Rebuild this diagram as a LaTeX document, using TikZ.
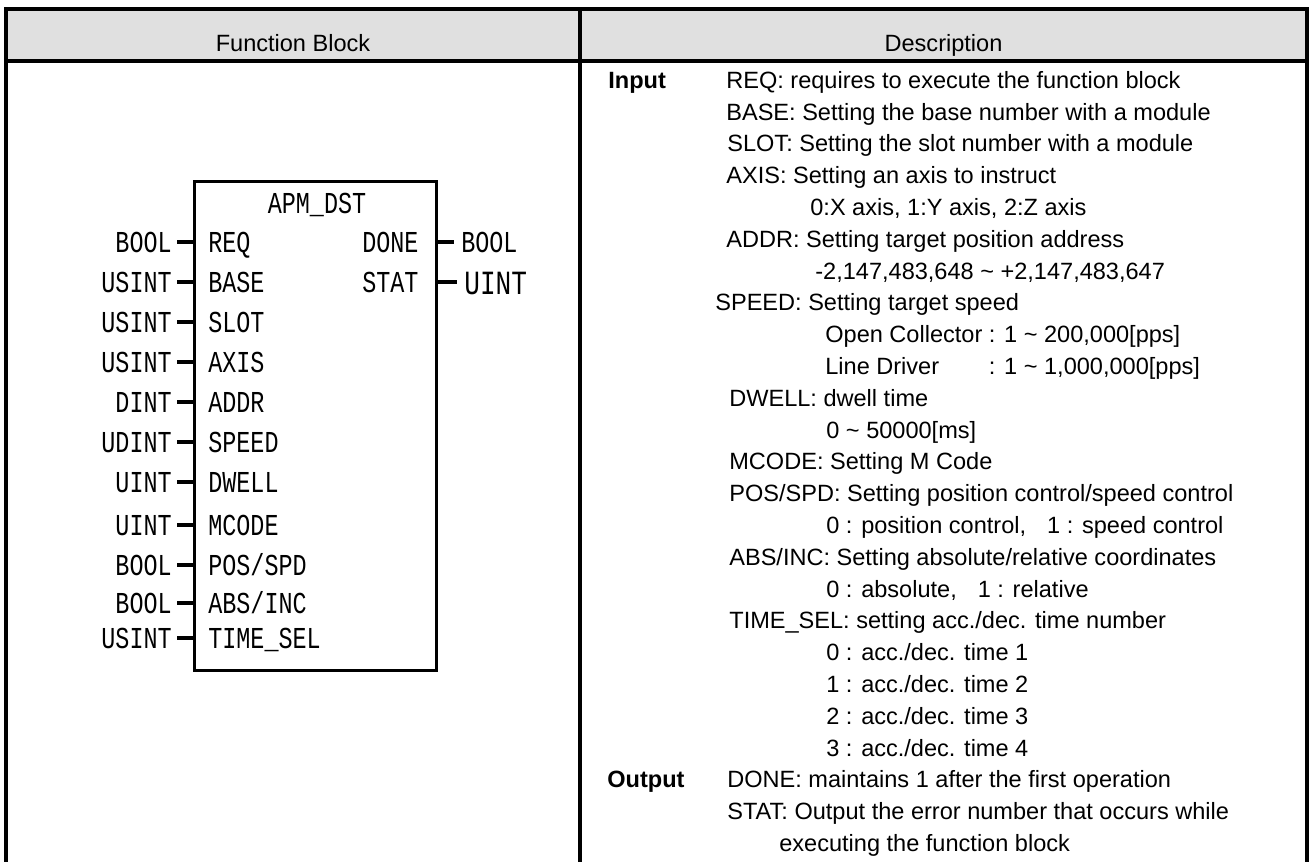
\documentclass[tikz,border=0pt]{standalone}
\usepackage{fontspec}
\setmainfont{Liberation Sans}
\newfontfamily\fbfont[FakeStretch=0.77]{Liberation Mono}
\usepackage{tikz}
\usetikzlibrary{positioning}
\definecolor{hdrgray}{RGB}{224,224,224}

\begin{document}
\begin{tikzpicture}[
  tblline/.style={line width=0.09cm},
  hdrtxt/.style={anchor=base, inner sep=0pt, font={\fontsize{13.4}{16}\selectfont}},
  desc/.style={anchor=base west, inner sep=0pt, font={\fontsize{13.4}{16}\selectfont}},
  desckey/.style={anchor=base west, inner sep=0pt, font={\fontsize{13.4}{16}\selectfont\bfseries}},
  fbbox/.style={draw=black, line width=0.06cm, minimum width=4.84cm, minimum height=9.78cm, inner sep=0pt},
  fbtxt/.style={inner sep=0pt, text height=0.40cm, text depth=0pt, font={\fbfont\fontsize{17.3}{20}\selectfont}},
  fbtxtbig/.style={fbtxt, text height=0.45cm, font={\fbfont\fontsize{19.3}{22}\selectfont}},
  fbstub/.style={line width=0.065cm}
]
\useasboundingbox (0,0) rectangle (26.22,-17.22);
\fill[hdrgray] (0.12,-0.18) rectangle (26.14,-1.22);
\draw[tblline] (0.12,-17.40) -- (0.12,-0.18) -- (26.14,-0.18) -- (26.14,-17.40);
\draw[tblline] (0.12,-1.22) -- (26.14,-1.22);
\draw[tblline] (11.60,-0.18) -- (11.60,-17.40);
\node[hdrtxt] (hfb) at (5.86,-1.02) {Function Block};
\node[hdrtxt] (hdesc) at (18.87,-1.02) {Description};

\node[fbbox] (fb) at (6.30,-8.51) {};
\node[fbtxt] (fbname) at (6.34,-4.06) {APM\_DST};
\node[fbtxt, anchor=west] (req) at (4.16,-4.84) {REQ};
\node[fbtxt, anchor=west] (base) at (4.16,-5.64) {BASE};
\node[fbtxt, anchor=west] (slot) at (4.16,-6.44) {SLOT};
\node[fbtxt, anchor=west] (axis) at (4.16,-7.24) {AXIS};
\node[fbtxt, anchor=west] (addr) at (4.16,-8.04) {ADDR};
\node[fbtxt, anchor=west] (speed) at (4.16,-8.84) {SPEED};
\node[fbtxt, anchor=west] (dwell) at (4.16,-9.64) {DWELL};
\node[fbtxt, anchor=west] (mcode) at (4.16,-10.50) {MCODE};
\node[fbtxt, anchor=west] (posspd) at (4.16,-11.30) {POS/SPD};
\node[fbtxt, anchor=west] (absinc) at (4.16,-12.06) {ABS/INC};
\node[fbtxt, anchor=west] (timesel) at (4.16,-12.76) {TIME\_SEL};
\node[fbtxt, anchor=west] (done) at (7.24,-4.84) {DONE};
\node[fbtxt, anchor=west] (stat) at (7.24,-5.64) {STAT};

\node[fbtxt, anchor=east] (treq) at (3.44,-4.84) {BOOL};
\node[fbtxt, anchor=east] (tbase) at (3.44,-5.64) {USINT};
\node[fbtxt, anchor=east] (tslot) at (3.44,-6.44) {USINT};
\node[fbtxt, anchor=east] (taxis) at (3.44,-7.24) {USINT};
\node[fbtxt, anchor=east] (taddr) at (3.44,-8.04) {DINT};
\node[fbtxt, anchor=east] (tspeed) at (3.44,-8.84) {UDINT};
\node[fbtxt, anchor=east] (tdwell) at (3.44,-9.64) {UINT};
\node[fbtxt, anchor=east] (tmcode) at (3.44,-10.50) {UINT};
\node[fbtxt, anchor=east] (tposspd) at (3.44,-11.30) {BOOL};
\node[fbtxt, anchor=east] (tabsinc) at (3.44,-12.06) {BOOL};
\node[fbtxt, anchor=east] (ttimesel) at (3.44,-12.76) {USINT};
\node[fbtxt, anchor=west] (tdone) at (9.22,-4.84) {BOOL};
\node[fbtxtbig, anchor=west] (tstat) at (9.28,-5.66) {UINT};

\draw[fbstub] ([xshift=0.10cm]treq.east) -- (fb.west |- treq.east);
\draw[fbstub] ([xshift=0.10cm]tbase.east) -- (fb.west |- tbase.east);
\draw[fbstub] ([xshift=0.10cm]tslot.east) -- (fb.west |- tslot.east);
\draw[fbstub] ([xshift=0.10cm]taxis.east) -- (fb.west |- taxis.east);
\draw[fbstub] ([xshift=0.10cm]taddr.east) -- (fb.west |- taddr.east);
\draw[fbstub] ([xshift=0.10cm]tspeed.east) -- (fb.west |- tspeed.east);
\draw[fbstub] ([xshift=0.10cm]tdwell.east) -- (fb.west |- tdwell.east);
\draw[fbstub] ([xshift=0.10cm]tmcode.east) -- (fb.west |- tmcode.east);
\draw[fbstub] ([xshift=0.10cm]tposspd.east) -- (fb.west |- tposspd.east);
\draw[fbstub] ([xshift=0.10cm]tabsinc.east) -- (fb.west |- tabsinc.east);
\draw[fbstub] ([xshift=0.10cm]ttimesel.east) -- (fb.west |- ttimesel.east);
\draw[fbstub] (fb.east |- done.east) -- ([xshift=-0.14cm]tdone.west);
\draw[fbstub] (fb.east |- stat.east) -- ([xshift=-0.14cm]tstat.west |- stat.east);

\node[desckey] (kin) at (12.16,-1.76) {Input};
\node[desckey] (kout) at (12.14,-15.75) {Output};
\node[desc] (d0) at (14.52,-1.76) {REQ: requires to execute the function block};
\node[desc] (d1) at (14.52,-2.40) {BASE: Setting the base number with a module};
\node[desc] (d2) at (14.54,-3.03) {SLOT: Setting the slot number with a module};
\node[desc] (d3) at (14.52,-3.67) {AXIS: Setting an axis to instruct};
\node[desc] (d4) at (16.20,-4.30) {0:X axis, 1:Y axis, 2:Z axis};
\node[desc] (d5) at (14.52,-4.94) {ADDR: Setting target position address};
\node[desc] (d6) at (16.30,-5.58) {-2,147,483,648 \textasciitilde{} +2,147,483,647};
\node[desc] (d7) at (14.30,-6.21) {SPEED: Setting target speed};
\node[desc] (d8) at (16.50,-6.85) {Open Collector : 1 \textasciitilde{} 200,000[pps]};
\node[desc] (d9) at (16.50,-7.48) {\rlap{Line Driver}\hphantom{Open Collector }: 1 \textasciitilde{} 1,000,000[pps]};
\node[desc] (d10) at (14.58,-8.12) {DWELL: dwell time};
\node[desc] (d11) at (16.52,-8.76) {0 \textasciitilde{} 50000[ms]};
\node[desc] (d12) at (14.58,-9.39) {MCODE: Setting M Code};
\node[desc] (d13) at (14.58,-10.03) {POS/SPD: Setting position control/speed control};
\node[desc] (d14) at (16.52,-10.66) {0 : position control,\hspace{0.42cm}1 : speed control};
\node[desc] (d15) at (14.58,-11.30) {ABS/INC: Setting absolute/relative coordinates};
\node[desc] (d16) at (16.52,-11.94) {0 : absolute,\hspace{0.42cm}1 : relative};
\node[desc] (d17) at (14.58,-12.57) {TIME\_SEL: setting acc./dec. time number};
\node[desc] (d18) at (16.52,-13.21) {0 : acc./dec. time 1};
\node[desc] (d19) at (16.52,-13.84) {1 : acc./dec. time 2};
\node[desc] (d20) at (16.52,-14.48) {2 : acc./dec. time 3};
\node[desc] (d21) at (16.52,-15.12) {3 : acc./dec. time 4};
\node[desc] (d22) at (14.54,-15.75) {DONE: maintains 1 after the first operation};
\node[desc] (d23) at (14.54,-16.39) {STAT: Output the error number that occurs while};
\node[desc] (d24) at (15.58,-17.02) {executing the function block};
\end{tikzpicture}
\end{document}
